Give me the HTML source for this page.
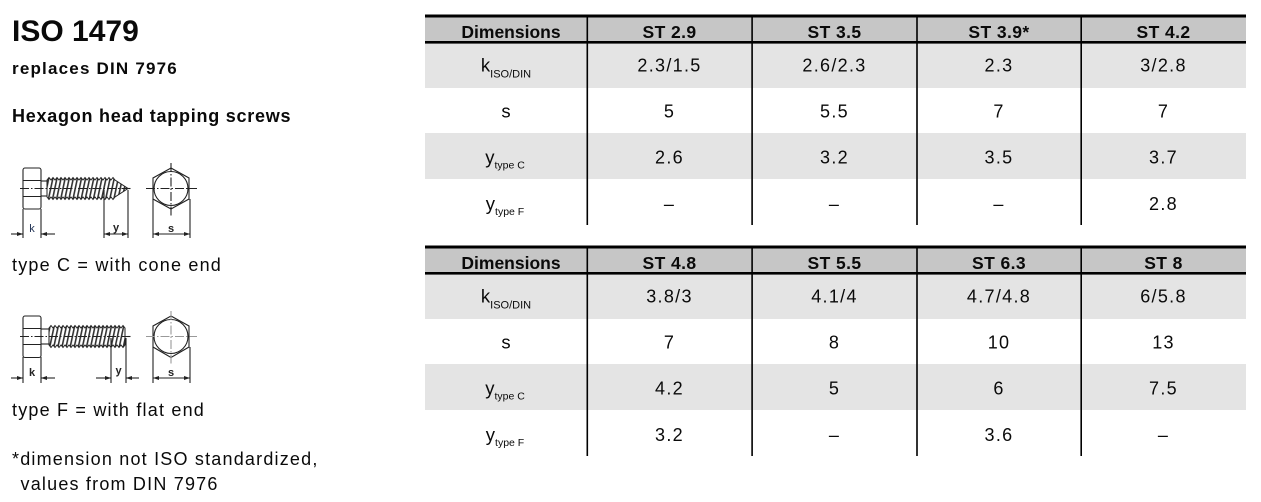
<!DOCTYPE html>
<html><head><meta charset="utf-8"><style>
html,body{margin:0;padding:0;background:#fff;width:1261px;height:502px;overflow:hidden}
svg{display:block}
text{fill:#0a0a0a;font-family:"Liberation Sans",sans-serif}
.t1{font-weight:bold;font-size:30px;letter-spacing:0px}
.t2{font-weight:bold;font-size:17px;letter-spacing:1.2px}
.t3{font-weight:bold;font-size:18px;letter-spacing:0.75px}
.t4{font-size:18px;letter-spacing:1.2px}
.hd{font-weight:bold;font-size:17.5px;letter-spacing:0.4px}
.hd0{font-weight:bold;font-size:17.5px}
.v{font-size:18px;letter-spacing:1.3px}
.lb{font-size:18.5px}
.sub{font-size:11px}
.sub2{font-size:10.5px}
.dl{font-weight:bold;font-size:11px;fill:#222}
</style></head><body>
<svg width="1261" height="502" viewBox="0 0 1261 502" xmlns="http://www.w3.org/2000/svg">
<defs>
<pattern id="th" patternUnits="userSpaceOnUse" width="4" height="4" patternTransform="rotate(12)"><rect x="0" y="0" width="1.6" height="4" fill="#333"/></pattern>
</defs>

<!-- Left texts -->
<text x="12" y="41" class="t1">ISO 1479</text>
<text x="12" y="74" class="t2">replaces DIN 7976</text>
<text x="12" y="122" class="t3">Hexagon head tapping screws</text>
<text x="12" y="271" class="t4">type C = with cone end</text>
<text x="12" y="416" class="t4">type F = with flat end</text>
<text x="12" y="465" class="t4">*dimension not ISO standardized,</text>
<text x="20.5" y="490" class="t4">values from DIN 7976</text>

<!-- Diagram 1 (type C) -->
<g stroke="#222" stroke-width="1.1" fill="none">
  <rect x="23" y="168" width="18" height="41" rx="2"/>
  <line x1="23" y1="180.5" x2="41" y2="180.5"/>
  <line x1="23" y1="196.5" x2="41" y2="196.5"/>
  <line x1="41" y1="181" x2="47" y2="181"/>
  <line x1="41" y1="196" x2="47" y2="196"/>
  <polygon fill="url(#th)" stroke-width="1" points="47,180 49,177.5 51,180 53,177.5 55,180 57,177.5 59,180 61,177.5 63,180 65,177.5 67,180 69,177.5 71,180 73,177.5 75,180 77,177.5 79,180 81,177.5 83,180 85,177.5 87,180 89,177.5 91,180 93,177.5 95,180 97,177.5 99,180 101,177.5 103,180 105,177.5 107,180 109,177.5 111,180 113,177.5 115,180 128,188.5 115,197 113,199.5 111,197 109,199.5 107,197 105,199.5 103,197 101,199.5 99,197 97,199.5 95,197 93,199.5 91,197 89,199.5 87,197 85,199.5 83,197 81,199.5 79,197 77,199.5 75,197 73,199.5 71,197 69,199.5 67,197 65,199.5 63,197 61,199.5 59,197 57,199.5 55,197 53,199.5 51,197 49,199.5 47,197"/>
  <line x1="20" y1="188.5" x2="132" y2="188.5" stroke-dasharray="9 2 1.5 2"/>
  <line x1="23" y1="209" x2="23" y2="238"/>
  <line x1="41" y1="209" x2="41" y2="238"/>
  <line x1="11" y1="234" x2="23" y2="234"/>
  <line x1="41" y1="234" x2="55" y2="234"/>
  <line x1="104" y1="190" x2="104" y2="238"/>
  <line x1="128" y1="190" x2="128" y2="238"/>
  <line x1="104" y1="234" x2="128" y2="234"/>
  <polygon points="171,168 189,178 189,199 171,209 153,199 153,178"/>
  <circle cx="171" cy="188.5" r="17"/>
  <line x1="146" y1="188.5" x2="197" y2="188.5" stroke-dasharray="9 2 1.5 2"/>
  <line x1="171" y1="163" x2="171" y2="216" stroke-dasharray="9 2 1.5 2"/>
  <line x1="153" y1="199" x2="153" y2="238"/>
  <line x1="190" y1="199" x2="190" y2="238"/>
  <line x1="153" y1="234" x2="190" y2="234"/>
</g>
<g fill="#222">
  <polygon points="23,234 17,232 17,236"/>
  <polygon points="41,234 47,232 47,236"/>
  <polygon points="104,234 110,232 110,236"/>
  <polygon points="128,234 122,232 122,236"/>
  <polygon points="153,234 159,232 159,236"/>
  <polygon points="190,234 184,232 184,236"/>
</g>
<text x="32" y="232" text-anchor="middle" class="dl" style="font-weight:normal;fill:#235">k</text>
<text x="116" y="231" text-anchor="middle" class="dl">y</text>
<text x="171" y="232" text-anchor="middle" class="dl">s</text>

<!-- Diagram 2 (type F) -->
<g stroke="#222" stroke-width="1.1" fill="none">
  <rect x="23" y="316" width="18" height="41.5" rx="2"/>
  <line x1="23" y1="328.5" x2="41" y2="328.5"/>
  <line x1="23" y1="344.5" x2="41" y2="344.5"/>
  <line x1="41" y1="329" x2="49" y2="329"/>
  <line x1="41" y1="344" x2="49" y2="344"/>
  <polygon fill="url(#th)" stroke-width="1" points="49,328 51,325.5 53,328 55,325.5 57,328 59,325.5 61,328 63,325.5 65,328 67,325.5 69,328 71,325.5 73,328 75,325.5 77,328 79,325.5 81,328 83,325.5 85,328 87,325.5 89,328 91,325.5 93,328 95,325.5 97,328 99,325.5 101,328 103,325.5 105,328 107,325.5 109,328 111,325.5 113,328 115,325.5 117,328 119,325.5 121,328 123,325.5 125,328 125,345 123,347.5 121,345 119,347.5 117,345 115,347.5 113,345 111,347.5 109,345 107,347.5 105,345 103,347.5 101,345 99,347.5 97,345 95,347.5 93,345 91,347.5 89,345 87,347.5 85,345 83,347.5 81,345 79,347.5 77,345 75,347.5 73,345 71,347.5 69,345 67,347.5 65,345 63,347.5 61,345 59,347.5 57,345 55,347.5 53,345 51,347.5 49,345"/>
  <line x1="20" y1="336.5" x2="131" y2="336.5" stroke-dasharray="9 2 1.5 2"/>
  <line x1="23" y1="357" x2="23" y2="383"/>
  <line x1="41" y1="357" x2="41" y2="383"/>
  <line x1="11" y1="378" x2="23" y2="378"/>
  <line x1="41" y1="378" x2="55" y2="378"/>
  <line x1="111" y1="338" x2="111" y2="383"/>
  <line x1="126" y1="338" x2="126" y2="383"/>
  <line x1="96" y1="378" x2="111" y2="378"/>
  <line x1="126" y1="378" x2="139" y2="378"/>
  <polygon points="171,316 189,326 189,347 171,357.5 153,347 153,326"/>
  <circle cx="171" cy="336.5" r="17"/>
  <line x1="146" y1="336.5" x2="197" y2="336.5" stroke="#999" stroke-dasharray="9 2 1.5 2"/>
  <line x1="171" y1="311" x2="171" y2="364" stroke="#999" stroke-dasharray="9 2 1.5 2"/>
  <line x1="153" y1="347" x2="153" y2="383"/>
  <line x1="190" y1="347" x2="190" y2="383"/>
  <line x1="153" y1="378" x2="190" y2="378"/>
</g>
<g fill="#222">
  <polygon points="23,378 17,376 17,380"/>
  <polygon points="41,378 47,376 47,380"/>
  <polygon points="111,378 105,376 105,380"/>
  <polygon points="126,378 132,376 132,380"/>
  <polygon points="153,378 159,376 159,380"/>
  <polygon points="190,378 184,376 184,380"/>
</g>
<text x="32" y="376" text-anchor="middle" class="dl">k</text>
<text x="118.5" y="374" text-anchor="middle" class="dl">y</text>
<text x="171" y="376" text-anchor="middle" class="dl">s</text>

<!-- Table 1 -->
<g>
  <rect x="425" y="17" width="821" height="24" fill="#c6c6c6"/>
  <rect x="425" y="43.5" width="821" height="44.5" fill="#e4e4e4"/>
  <rect x="425" y="133" width="821" height="46" fill="#e4e4e4"/>
  <rect x="425" y="14.5" width="821" height="3" fill="#000"/>
  <rect x="425" y="41" width="821" height="2.6" fill="#000"/>
  <rect x="586.5" y="14.5" width="1.6" height="210.5" fill="#000"/>
  <rect x="751.3" y="14.5" width="1.6" height="210.5" fill="#000"/>
  <rect x="916.2" y="14.5" width="1.6" height="210.5" fill="#000"/>
  <rect x="1080.4" y="14.5" width="1.6" height="210.5" fill="#000"/>
  <g text-anchor="middle">
    <text x="511" y="38" class="hd0">Dimensions</text>
    <text x="669.5" y="38" class="hd">ST 2.9</text>
    <text x="834.5" y="38" class="hd">ST 3.5</text>
    <text x="999" y="38" class="hd">ST 3.9*</text>
    <text x="1163.5" y="38" class="hd">ST 4.2</text>

    <text x="506" y="71.5" class="lb">k<tspan class="sub" dy="6">ISO/DIN</tspan></text>
    <text x="669.5" y="71.5" class="v">2.3/1.5</text>
    <text x="834.5" y="71.5" class="v">2.6/2.3</text>
    <text x="999" y="71.5" class="v">2.3</text>
    <text x="1163.5" y="71.5" class="v">3/2.8</text>

    <text x="506" y="117.5" class="lb">s</text>
    <text x="669.5" y="117.5" class="v">5</text>
    <text x="834.5" y="117.5" class="v">5.5</text>
    <text x="999" y="117.5" class="v">7</text>
    <text x="1163.5" y="117.5" class="v">7</text>

    <text x="505" y="163.5" class="lb">y<tspan class="sub2" dy="5">type C</tspan></text>
    <text x="669.5" y="163.5" class="v">2.6</text>
    <text x="834.5" y="163.5" class="v">3.2</text>
    <text x="999" y="163.5" class="v">3.5</text>
    <text x="1163.5" y="163.5" class="v">3.7</text>

    <text x="505" y="210" class="lb">y<tspan class="sub2" dy="5">type F</tspan></text>
    <text x="669.5" y="210" class="v">–</text>
    <text x="834.5" y="210" class="v">–</text>
    <text x="999" y="210" class="v">–</text>
    <text x="1163.5" y="210" class="v">2.8</text>
  </g>
</g>

<!-- Table 2 -->
<g transform="translate(0,231)">
  <rect x="425" y="17" width="821" height="24" fill="#c6c6c6"/>
  <rect x="425" y="43.5" width="821" height="44.5" fill="#e4e4e4"/>
  <rect x="425" y="133" width="821" height="46" fill="#e4e4e4"/>
  <rect x="425" y="14.5" width="821" height="3" fill="#000"/>
  <rect x="425" y="41" width="821" height="2.6" fill="#000"/>
  <rect x="586.5" y="14.5" width="1.6" height="210.5" fill="#000"/>
  <rect x="751.3" y="14.5" width="1.6" height="210.5" fill="#000"/>
  <rect x="916.2" y="14.5" width="1.6" height="210.5" fill="#000"/>
  <rect x="1080.4" y="14.5" width="1.6" height="210.5" fill="#000"/>
  <g text-anchor="middle">
    <text x="511" y="38" class="hd0">Dimensions</text>
    <text x="669.5" y="38" class="hd">ST 4.8</text>
    <text x="834.5" y="38" class="hd">ST 5.5</text>
    <text x="999" y="38" class="hd">ST 6.3</text>
    <text x="1163.5" y="38" class="hd">ST 8</text>

    <text x="506" y="71.5" class="lb">k<tspan class="sub" dy="6">ISO/DIN</tspan></text>
    <text x="669.5" y="71.5" class="v">3.8/3</text>
    <text x="834.5" y="71.5" class="v">4.1/4</text>
    <text x="999" y="71.5" class="v">4.7/4.8</text>
    <text x="1163.5" y="71.5" class="v">6/5.8</text>

    <text x="506" y="117.5" class="lb">s</text>
    <text x="669.5" y="117.5" class="v">7</text>
    <text x="834.5" y="117.5" class="v">8</text>
    <text x="999" y="117.5" class="v">10</text>
    <text x="1163.5" y="117.5" class="v">13</text>

    <text x="505" y="163.5" class="lb">y<tspan class="sub2" dy="5">type C</tspan></text>
    <text x="669.5" y="163.5" class="v">4.2</text>
    <text x="834.5" y="163.5" class="v">5</text>
    <text x="999" y="163.5" class="v">6</text>
    <text x="1163.5" y="163.5" class="v">7.5</text>

    <text x="505" y="210" class="lb">y<tspan class="sub2" dy="5">type F</tspan></text>
    <text x="669.5" y="210" class="v">3.2</text>
    <text x="834.5" y="210" class="v">–</text>
    <text x="999" y="210" class="v">3.6</text>
    <text x="1163.5" y="210" class="v">–</text>
  </g>
</g>
</svg>
</body></html>
